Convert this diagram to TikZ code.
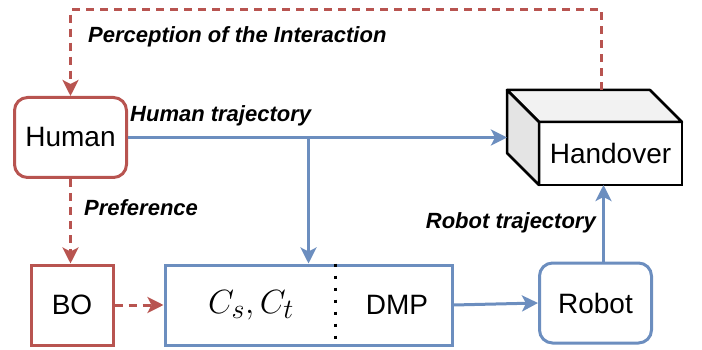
\documentclass[tikz,border=0pt]{standalone}
\usepackage{fontspec}
\setmainfont{Liberation Sans}
\usetikzlibrary{arrows.meta,calc,positioning}
\definecolor{hri}{HTML}{B85450}
\definecolor{ctrl}{HTML}{6C8EBF}
\definecolor{cubetop}{HTML}{F2F2F2}
\definecolor{cubeside}{HTML}{E4E4E4}

\tikzset{
 blk/.style={draw,line width=3pt,fill=white,minimum width=112pt,minimum height=80pt,inner sep=0pt,font=\fontsize{28}{32}\selectfont},
 redbox/.style={blk,draw=hri},
 bluebox/.style={blk,draw=ctrl},
 lbl/.style={font=\fontsize{22}{26}\selectfont\bfseries\itshape,inner sep=0pt},
 flow/.style={ctrl,line width=3pt,-{Stealth[length=16pt,width=16pt,inset=4pt]}},
 fb/.style={hri,line width=3pt,dash pattern=on 8pt off 6pt,-{Stealth[length=16pt,width=16pt,inset=4pt]}},
}

\begin{document}
\begin{tikzpicture}[x=1pt,y=-1pt]
 \useasboundingbox(0,0)rectangle(702,350);
 % blocks
 \node[redbox,rounded corners=13pt](human)at(70.5,137.5){Human};
 \node[redbox,minimum width=82pt](bo)at(72,305){BO};
 \node[bluebox,minimum width=287pt](gen)at(308.5,305){};
 \node[font=\fontsize{24.88}{30}\selectfont,scale=1.35](cst)at(251,305){$C_s,C_t$};
 \node[font=\fontsize{28}{32}\selectfont](dmp)at(397,305){DMP};
 \coordinate(div)at(335,305);
 \draw[line width=3pt,dash pattern=on 3pt off 9pt](div |- gen.north)--(div |- gen.south);
 \node[bluebox,rounded corners=13pt](robot)at(595.5,303){Robot};
 % handover cube
 \node[draw,line width=2.5pt,fill=white,minimum width=143pt,minimum height=63pt,inner sep=0pt,outer sep=0pt,font=\fontsize{28}{32}\selectfont](hand)at(610.5,153.5){Handover};
 \coordinate(bl)at($(hand.north west)+(-32,-32)$);
 \coordinate(br)at($(hand.north east)+(-32,-32)$);
 \coordinate(bb)at($(hand.south west)+(-32,-32)$);
 \filldraw[fill=cubetop,line width=2.5pt,line join=round](hand.north west)--(bl)--(br)--(hand.north east)--cycle;
 \filldraw[fill=cubeside,line width=2.5pt,line join=round](hand.north west)--(bl)--(bb)--(hand.south west)--cycle;
 % connectors
 \draw[flow](human.east)--(human.east -| bb);
 \draw[flow](gen.north |- human.east)--(gen.north);
 \draw[flow](gen.east)--(robot.west);
 \draw[flow]([xshift=8pt]robot.north)--([xshift=8pt]robot.north |- hand.south);
 \draw[fb](human.south)--(human.south |- bo.north);
 \draw[fb](bo.east)--(gen.west);
 \draw[fb]($(bl)!.664!(br)$)--++(0,-80)-|(human.north);
 % labels
 \node[lbl,anchor=west](perc)at(88,37){Perception of the Interaction};
 \node[lbl,anchor=west](htraj)at(130,116){Human trajectory};
 \node[lbl,anchor=west](pref)at(84,208){Preference};
 \node[lbl,anchor=east](rtraj)at(596,223){Robot trajectory};
\end{tikzpicture}
\end{document}
